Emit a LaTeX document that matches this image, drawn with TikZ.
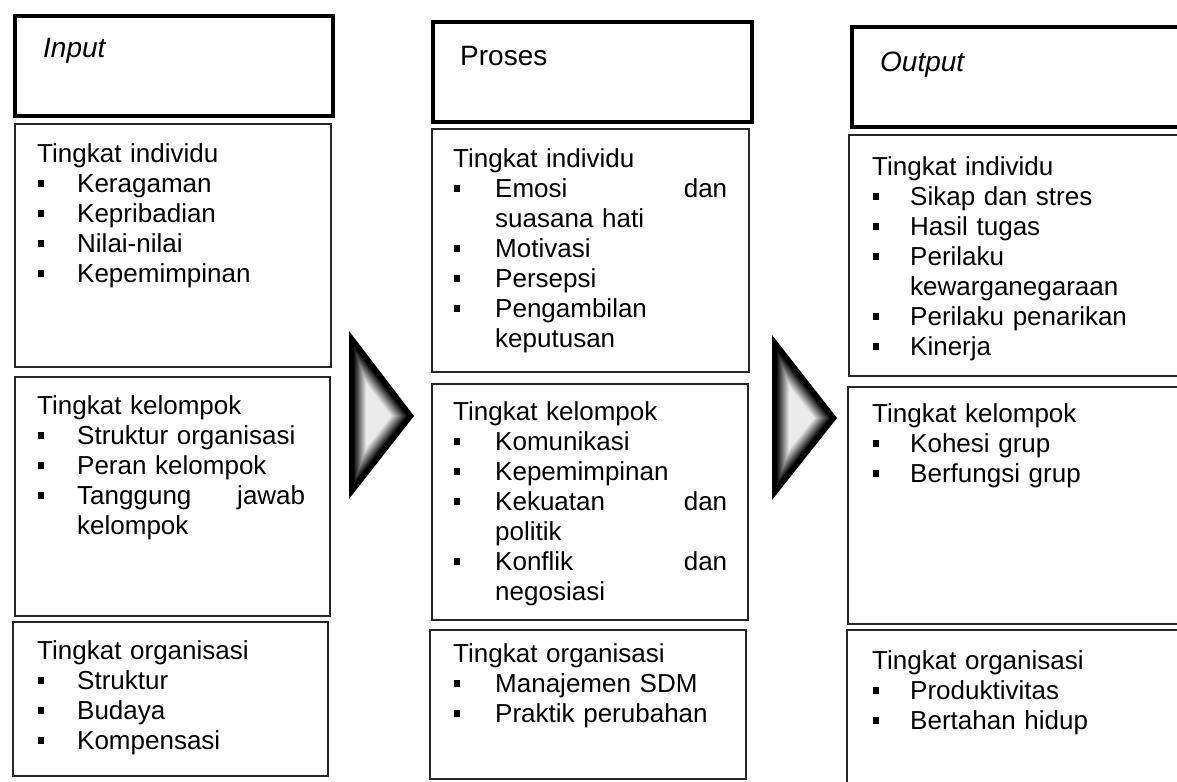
\documentclass[tikz,border=0pt]{standalone}
\usepackage{fontspec}
\setmainfont{Liberation Sans}
\usetikzlibrary{calc}

% bullet: small filled square followed by the item indent
\newcommand\bul[1][41bp]{\makebox[#1][l]{\hspace{1bp}\rule[5bp]{6bp}{7bp}}}
\newcommand\ind[1][41bp]{\hspace*{#1}}

\tikzset{
  headbox/.style={draw=black, line width=3.6bp},
  levelbox/.style={draw=black!85, line width=1.8bp},
  bodytxt/.style={anchor=north west, inner sep=0pt, align=left,
    font=\fontsize{26bp}{30bp}\selectfont, text=black},
  headtxt/.style={anchor=base west, inner sep=0pt,
    font=\fontsize{28bp}{32bp}\selectfont, text=black}
}

\begin{document}
\begin{tikzpicture}[x=1bp, y=-1bp]
\useasboundingbox[fill=white] (0,0) rectangle (1177,782);

% ---------- column 1: Input ----------
\draw[headbox]  (15,16)  rectangle (333,116);
\draw[levelbox] (15,124) rectangle (331,367);
\draw[levelbox] (15,377) rectangle (330,616);
\draw[levelbox] (13,622) rectangle (328,776);

\node[headtxt] (inHead) at (43,58) {\itshape Input};
\node[bodytxt, text width=268bp] (inInd) at (37,143) {%
Tingkat individu\\
\bul[40bp]Keragaman\\
\bul[40bp]Kepribadian\\
\bul[40bp]Nilai-nilai\\
\bul[40bp]Kepemimpinan};
\node[bodytxt, text width=268bp] (inGrp) at (37,395) {%
Tingkat kelompok\\
\bul[40bp]Struktur organisasi\\
\bul[40bp]Peran kelompok\\
\bul[40bp]Tanggung\hfill jawab\\
\ind[40bp]kelompok};
\node[bodytxt, text width=268bp] (inOrg) at (37,640) {%
Tingkat organisasi\\
\bul[40bp]Struktur\\
\bul[40bp]Budaya\\
\bul[40bp]Kompensasi};

% ---------- column 2: Proses ----------
\draw[headbox]  (433,22)  rectangle (752,122);
\draw[levelbox] (432,129) rectangle (749,372);
\draw[levelbox] (432,384) rectangle (748,620);
\draw[levelbox] (430,630) rectangle (746,779);

\node[headtxt] (prHead) at (460,66) {Proses};
\node[bodytxt, text width=274bp] (prInd) at (453,148) {%
Tingkat individu\\
\bul[42bp]Emosi\hfill dan\\
\ind[42bp]suasana hati\\
\bul[42bp]Motivasi\\
\bul[42bp]Persepsi\\
\bul[42bp]Pengambilan\\
\ind[42bp]keputusan};
\node[bodytxt, text width=274bp] (prGrp) at (453,401) {%
Tingkat kelompok\\
\bul[42bp]Komunikasi\\
\bul[42bp]Kepemimpinan\\
\bul[42bp]Kekuatan\hfill dan\\
\ind[42bp]politik\\
\bul[42bp]Konflik\hfill dan\\
\ind[42bp]negosiasi};
\node[bodytxt, text width=274bp] (prOrg) at (453,643) {%
Tingkat organisasi\\
\bul[42bp]Manajemen SDM\\
\bul[42bp]Praktik perubahan};

% ---------- column 3: Output ----------
\draw[headbox]  (852,27)  rectangle (1190,127);
\draw[levelbox] (849,135) rectangle (1190,376);
\draw[levelbox] (848,387) rectangle (1190,624);
\draw[levelbox] (847,630) rectangle (1190,790);

\node[headtxt] (outHead) at (880,72) {\itshape Output};
\node[bodytxt, text width=280bp] (outInd) at (872,156) {%
Tingkat individu\\
\bul[38bp]Sikap dan stres\\
\bul[38bp]Hasil tugas\\
\bul[38bp]Perilaku\\
\ind[38bp]kewarganegaraan\\
\bul[38bp]Perilaku penarikan\\
\bul[38bp]Kinerja};
\node[bodytxt, text width=280bp] (outGrp) at (872,403) {%
Tingkat kelompok\\
\bul[38bp]Kohesi grup\\
\bul[38bp]Berfungsi grup};
\node[bodytxt, text width=280bp] (outOrg) at (872,650) {%
Tingkat organisasi\\
\bul[38bp]Produktivitas\\
\bul[38bp]Bertahan hidup};

% ---------- shaded triangular arrows ----------
\coordinate (aTop) at (349,331);
\coordinate (aBot) at (349,499);
\coordinate (aTip) at (414,416);
\coordinate (aMid) at (377,416);
\coordinate (bTop) at (772,335);
\coordinate (bBot) at (772,500);
\coordinate (bTip) at (837,418);
\coordinate (bMid) at (800,418);

\foreach \i in {0,...,30}{
  \pgfmathsetmacro\s{1-\i/30*0.92}
  \pgfmathsetmacro\g{max(8,min(100,100*(21-\i)/16))}
  \fill[black!\g] ($(aMid)!\s!(aTop)$) -- ($(aMid)!\s!(aBot)$) -- ($(aMid)!\s!(aTip)$) -- cycle;
  \fill[black!\g] ($(bMid)!\s!(bTop)$) -- ($(bMid)!\s!(bBot)$) -- ($(bMid)!\s!(bTip)$) -- cycle;
}
\end{tikzpicture}
\end{document}
